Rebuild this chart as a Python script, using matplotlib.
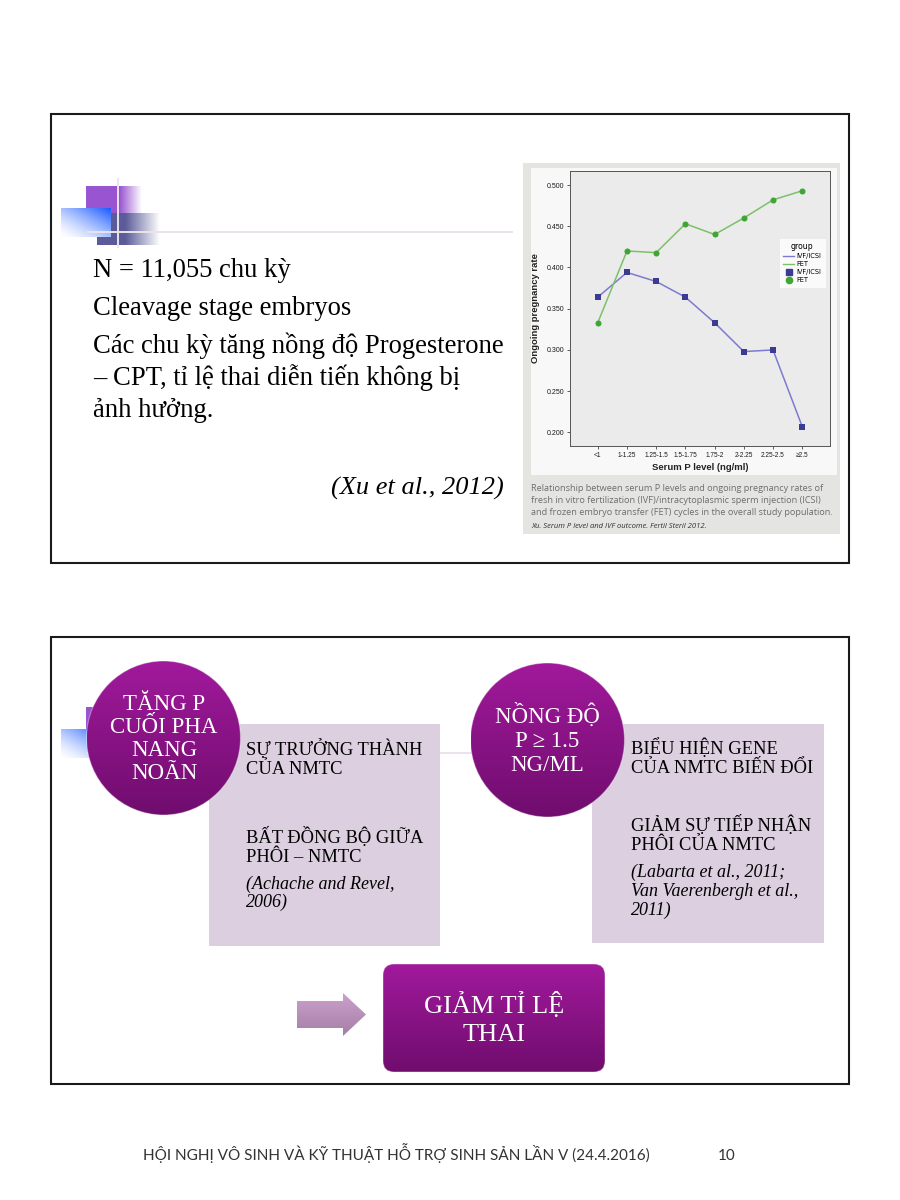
import numpy as np
import matplotlib.pyplot as plt
from matplotlib.patches import Rectangle, Circle, FancyBboxPatch, Polygon
from matplotlib.lines import Line2D

# ---- chart data (Xu et al., 2012) ----
categories = ['<1', '1-1.25', '1.25-1.5', '1.5-1.75', '1.75-2', '2-2.25', '2.25-2.5', '≥2.5']
ivf_icsi = [0.364, 0.394, 0.383, 0.364, 0.333, 0.298, 0.300, 0.207]
fet = [0.333, 0.420, 0.418, 0.453, 0.440, 0.460, 0.482, 0.493]
y_ticks = [0.200, 0.250, 0.300, 0.350, 0.400, 0.450, 0.500]

caption = ['Relationship between serum P levels and ongoing pregnancy rates of',
           'fresh in vitro fertilization (IVF)/intracytoplasmic sperm injection (ICSI)',
           'and frozen embryo transfer (FET) cycles in the overall study population.']
source = 'Xu. Serum P level and IVF outcome. Fertil Steril 2012.'

# ---- slide texts ----
top_lines = ['N = 11,055 chu kỳ', 'Cleavage stage embryos',
             'Các chu kỳ tăng nồng độ Progesterone',
             '– CPT, tỉ lệ thai diễn tiến không bị', 'ảnh hưởng.']
top_cite = '(Xu et al., 2012)'
circle1 = ['TĂNG P', 'CUỐI PHA', 'NANG', 'NOÃN']
circle2 = ['NỒNG ĐỘ', 'P ≥ 1.5', 'NG/ML']
box1 = ['SỰ TRƯỞNG THÀNH', 'CỦA NMTC', 'BẤT ĐỒNG BỘ GIỮA', 'PHÔI – NMTC']
box1_cite = ['(Achache and Revel,', '2006)']
box2 = ['BIỂU HIỆN GENE', 'CỦA NMTC BIẾN ĐỔI', 'GIẢM SỰ TIẾP NHẬN', 'PHÔI CỦA NMTC']
box2_cite = ['(Labarta et al., 2011;', 'Van Vaerenbergh et al.,', '2011)']
result = ['GIẢM TỈ LỆ', 'THAI']
footer = 'HỘI NGHỊ VÔ SINH VÀ KỸ THUẬT HỖ TRỢ SINH SẢN LẦN V (24.4.2016)'
page_no = '10'

serif = ['Liberation Serif', 'DejaVu Serif']
sans = ['Liberation Sans', 'DejaVu Sans']

fig = plt.figure(figsize=(9, 12), dpi=100)
ax = fig.add_axes([0, 0, 1, 1])
ax.set_xlim(0, 900)
ax.set_ylim(1200, 0)
ax.axis('off')


def vgrad(x0, y0, x1, y1, c_top, c_bot, clip=None, z=2):
    t = np.linspace(0, 1, 200)[:, None, None]
    arr = (1 - t) * np.array(c_top) + t * np.array(c_bot)
    arr = np.repeat(arr, 2, axis=1)
    im = ax.imshow(arr, extent=(x0, x1, y1, y0), aspect='auto', zorder=z,
                   interpolation='bilinear')
    if clip is not None:
        im.set_clip_path(clip)


def hfade(x0, y0, x1, y1, color, solid_frac, z=1):
    s = np.linspace(0, 1, 200)
    a = np.clip((1 - s) / (1 - solid_frac), 0, 1)
    a = np.where(s < solid_frac, 1, a)
    arr = np.zeros((2, 200, 4))
    arr[..., :3] = color
    arr[..., 3] = a
    ax.imshow(arr, extent=(x0, x1, y1, y0), aspect='auto', zorder=z,
              interpolation='bilinear')


def deco(dy):
    hfade(86, 186 + dy, 142, 213 + dy, (0.60, 0.33, 0.82), 0.6)
    hfade(97, 213 + dy, 160, 245 + dy, (0.36, 0.36, 0.60), 0.45)
    # blue block, white bottom-left -> blue top-right
    xs = np.linspace(0, 1, 120)[None, :]
    ys = np.linspace(0, 1, 60)[:, None]
    f = (((xs + (1 - ys)) / 2) ** 1.4)[..., None]
    arr = (1 - f) * np.array([1, 1, 1]) + f * np.array([0.10, 0.35, 1.0])
    ax.imshow(arr, extent=(61, 111, 237 + dy, 208 + dy), aspect='auto',
              zorder=1.5, interpolation='bilinear')
    ax.plot([118, 118], [179 + dy, 247 + dy], color='#ebe3eb', lw=1.4, zorder=1.8)
    ax.plot([88, 512], [232 + dy, 232 + dy], color='#ebe3eb', lw=1.4, zorder=1.8)


# ---------------- top slide ----------------
ax.add_patch(Rectangle((51, 114), 798, 449, fill=False, ec='#1a1a1a', lw=1.5, zorder=10))
deco(0)

base_y = [277, 315, 353, 385, 417]
for txt, yy in zip(top_lines, base_y):
    ax.text(93, yy, txt, fontsize=19.2, family=serif, va='baseline', ha='left', zorder=6)
ax.text(504, 495, top_cite, fontsize=19, family=serif, style='italic',
        va='baseline', ha='right', zorder=6)

# chart picture frame
ax.add_patch(Rectangle((523, 163), 317, 371, fc='#e4e4e1', ec='none', zorder=2))
ax.add_patch(Rectangle((531, 168), 306, 307, fc='#f8f8f8', ec='none', zorder=2.5))
cap_y = [491, 503, 515]
for txt, yy in zip(caption, cap_y):
    ax.text(531, yy, txt, fontsize=6.6, family=['Open Sans', 'DejaVu Sans'],
            color='#6e6e6e', va='baseline', zorder=6)
ax.text(531, 528, source, fontsize=5.5, family=['Open Sans', 'DejaVu Sans'],
        style='italic', color='#303030', va='baseline', zorder=6)

cax = fig.add_axes([570 / 900, 1 - 446 / 1200, 260 / 900, 275 / 1200])
cax.set_facecolor('#ebebeb')
x = np.arange(len(categories))
ivf_line, fet_line = '#7b7bd0', '#7cc167'
ivf_mk, fet_mk = '#3b3b94', '#3fa535'
cax.plot(x, ivf_icsi, color=ivf_line, lw=1.1, zorder=3)
cax.plot(x, fet, color=fet_line, lw=1.1, zorder=3)
cax.scatter(x, ivf_icsi, marker='s', s=17, color=ivf_mk, zorder=4, linewidths=0)
cax.scatter(x, fet, marker='o', s=19, color=fet_mk, zorder=4, linewidths=0)
cax.set_xlim(-0.95, 7.95)
cax.set_ylim(0.1835, 0.517)
cax.set_xticks(x)
cax.set_xticklabels(categories, fontsize=4.7, family=sans, color='#1a1a1a')
cax.set_yticks(y_ticks)
cax.set_yticklabels(['%.3f' % v for v in y_ticks], fontsize=5, family=sans, color='#1a1a1a')
cax.tick_params(length=2.5, width=0.6, pad=1.5, color='#444444')
for sp in cax.spines.values():
    sp.set_color('#555555')
    sp.set_linewidth(0.7)
cax.set_xlabel('Serum P level (ng/ml)', fontsize=6.8, fontweight='bold',
               family=sans, color='#222222', labelpad=3)
cax.set_ylabel('Ongoing pregnancy rate', fontsize=6.8, fontweight='bold',
               family=sans, color='#222222', labelpad=5)
handles = [Line2D([], [], color=ivf_line, lw=1.0, label='IVF/ICSI'),
           Line2D([], [], color=fet_line, lw=1.0, label='FET'),
           Line2D([], [], color=ivf_mk, marker='s', ls='none', ms=4.5, label='IVF/ICSI'),
           Line2D([], [], color=fet_mk, marker='o', ls='none', ms=4.5, label='FET')]
leg = cax.legend(handles=handles, title='group', loc='upper left',
                 bbox_to_anchor=(0.79, 0.77), fontsize=4.8, title_fontsize=5.6,
                 handlelength=1.6, handletextpad=0.3, labelspacing=0.3,
                 borderpad=0.7, frameon=True, fancybox=False)
leg.get_frame().set_edgecolor('#e2e2e2')
leg.get_frame().set_linewidth(0.4)

# ---------------- bottom slide ----------------
ax.add_patch(Rectangle((51, 637), 798, 447, fill=False, ec='#1a1a1a', lw=1.5, zorder=10))
deco(521)

box_col = '#dccfe0'
ax.add_patch(Rectangle((209, 724), 231, 222, fc=box_col, ec='none', zorder=3))
ax.add_patch(Rectangle((592, 724), 232, 219, fc=box_col, ec='none', zorder=3))

c_top, c_bot = (0.63, 0.10, 0.61), (0.44, 0.05, 0.43)
for cx, cy in [(163.5, 738), (547.5, 740)]:
    circ = Circle((cx, cy), 77, fc='none', ec=(1, 1, 1, 0.35), lw=0.8, zorder=4.5)
    ax.add_patch(circ)
    vgrad(cx - 77, cy - 77, cx + 77, cy + 77, c_top, c_bot, clip=circ, z=4)

rbox = FancyBboxPatch((383, 964), 222, 108, boxstyle='round,pad=0,rounding_size=11',
                      fc='none', ec=(1, 1, 1, 0.35), lw=0.8, zorder=4.5)
ax.add_patch(rbox)
vgrad(383, 964, 605, 1072, c_top, c_bot, clip=rbox, z=4)

arrow = Polygon([(297, 1001), (343, 1001), (343, 993), (366, 1014.5),
                 (343, 1036), (343, 1028), (297, 1028)], closed=True,
                fc='none', ec='none', zorder=4)
ax.add_patch(arrow)
vgrad(297, 993, 366, 1036, (0.80, 0.63, 0.80), (0.64, 0.50, 0.64), clip=arrow, z=4)

for txt, yy in zip(circle1, [710, 733, 756, 779]):
    ax.text(164, yy, txt, fontsize=16.5, family=serif, color='white',
            ha='center', va='baseline', zorder=6)
for txt, yy in zip(circle2, [723, 747, 771]):
    ax.text(547, yy, txt, fontsize=16.5, family=serif, color='white',
            ha='center', va='baseline', zorder=6)
for txt, yy in zip(box1, [755, 774, 843, 862]):
    ax.text(246, yy, txt, fontsize=13.3, family=serif, va='baseline', zorder=6)
for txt, yy in zip(box1_cite, [889, 907]):
    ax.text(246, yy, txt, fontsize=13, family=serif, style='italic', va='baseline', zorder=6)
for txt, yy in zip(box2, [754, 773, 831, 850]):
    ax.text(631, yy, txt, fontsize=13.3, family=serif, va='baseline', zorder=6)
for txt, yy in zip(box2_cite, [877, 896, 915]):
    ax.text(631, yy, txt, fontsize=13, family=serif, style='italic', va='baseline', zorder=6)
for txt, yy in zip(result, [1013, 1041]):
    ax.text(494, yy, txt, fontsize=19, family=serif, color='white',
            ha='center', va='baseline', zorder=6)

# footer
ax.text(143, 1160, footer, fontsize=11, family=['Lato', 'DejaVu Sans'],
        color='#333333', va='baseline', zorder=6)
ax.text(718, 1160, page_no, fontsize=11, family=['Lato', 'DejaVu Sans'],
        color='#333333', va='baseline', zorder=6)

ax.set_xlim(0, 900)
ax.set_ylim(1200, 0)
fig.savefig('out.png', dpi=100)
